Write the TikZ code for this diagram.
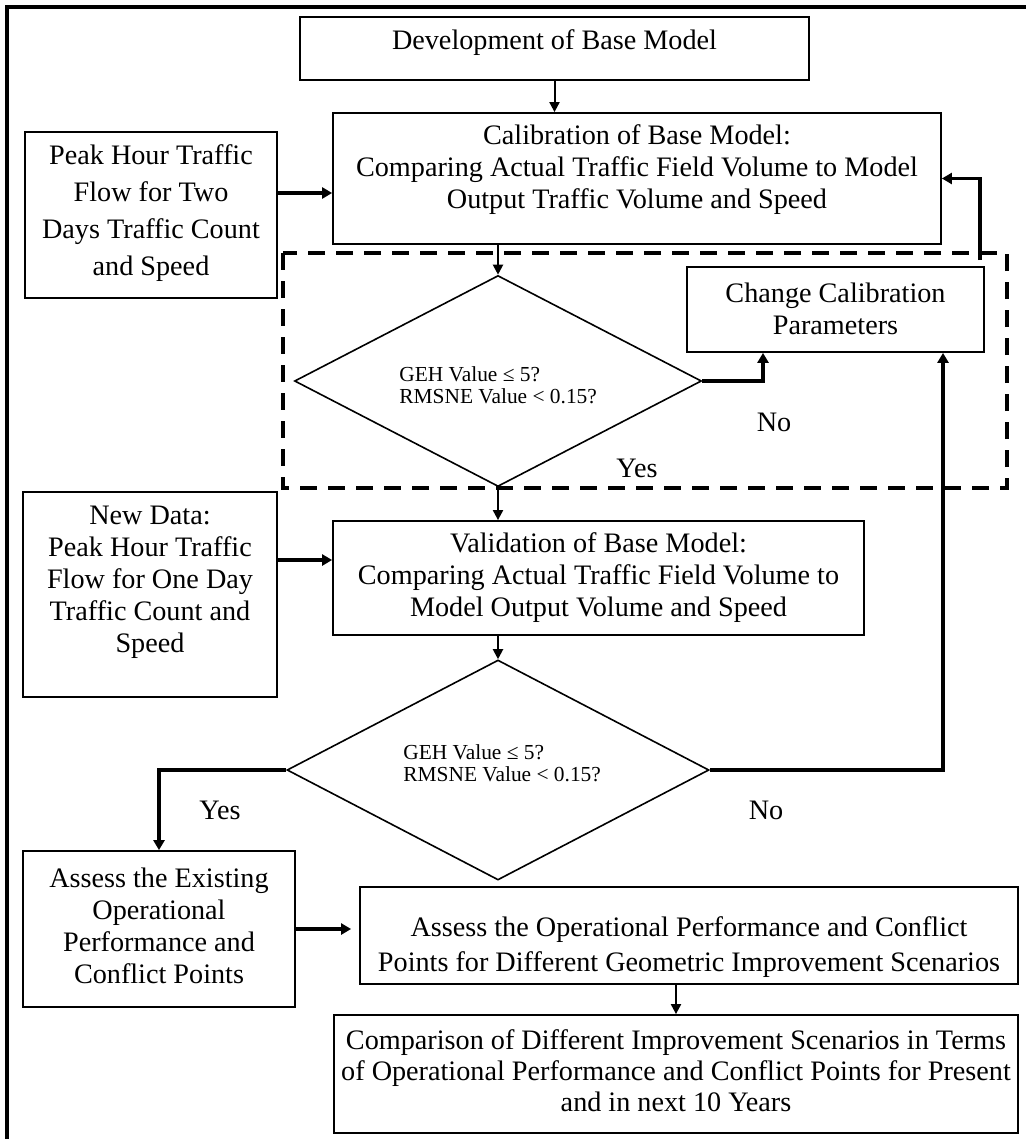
\documentclass[tikz,border=0pt]{standalone}
\usepackage{fontspec}
\setmainfont{Liberation Serif}
\usetikzlibrary{arrows.meta,shapes.geometric,calc}
\begin{document}
\begin{tikzpicture}[x=0.5pt,y=-0.5pt,
  bx/.style 2 args={draw, line width=0.9pt, minimum width=#1*0.5pt, minimum height=#2*0.5pt, inner sep=0pt},
  dia/.style 2 args={draw, diamond, line width=0.8pt, minimum width=#1*0.5pt, minimum height=#2*0.5pt, inner sep=0pt},
  txt/.style={align=center, inner sep=0pt, font=\fontsize{14.1}{16}\selectfont},
  small/.style={align=left, inner sep=0pt, font=\fontsize{10.7}{11}\selectfont, anchor=west},
  lbl/.style={inner sep=0pt, font=\fontsize{14.1}{16}\selectfont},
  thin/.style={line width=1pt, -{Triangle[length=5pt,width=5pt]}},
  thick/.style={line width=1.8pt, -{Triangle[length=5pt,width=5.5pt]}},
  frame/.style={line width=1.8pt},
  dashbox/.style={line width=1.8pt, dash pattern=on 8.5pt off 5.5pt}
]
\useasboundingbox (0,0) rectangle (1025,1139);
% outer frame
\draw[frame] (7,1170) -- (7,7) -- (1060,7);
% dashed group
\draw[dashbox] (283,253) rectangle (1007,488);
\coordinate (fb) at (980,260);

% boxes
\node[bx={509}{63}] (dev) at (554.5,48.5) {};
\node[txt] (devT) at (554.5,43) {Development of Base Model};

\node[bx={608}{131}] (cal) at (637,178.5) {};
\node[txt] (calT) at (637,170) {Calibration of Base Model:\\Comparing Actual Traffic Field Volume to Model\\Output Traffic Volume and Speed};

\node[bx={252}{166}] (peak) at (151,215) {};
\node[txt, font=\fontsize{14.1}{18.5}\selectfont] (peakT) at (151,213) {Peak Hour Traffic\\Flow for Two\\Days Traffic Count\\and Speed};

\node[bx={297}{85}] (chg) at (835.5,309.5) {};
\node[txt] (chgT) at (835.5,309) {Change Calibration\\Parameters};

\node[dia={407}{211}] (d1) at (498,381) {};
\node[small] (d1T) at (399,385) {GEH Value ≤ 5?\\RMSNE Value < 0.15?};

\node[bx={254}{205}] (new) at (150,594.5) {};
\node[txt] (newT) at (150,582) {New Data:\\Peak Hour Traffic\\Flow for One Day\\Traffic Count and\\Speed};

\node[bx={531}{114}] (val) at (598.5,578) {};
\node[txt] (valT) at (598.5,577.5) {Validation of Base Model:\\Comparing Actual Traffic Field Volume to\\Model Output Volume and Speed};

\node[dia={422}{220}] (d2) at (498,770) {};
\node[small] (d2T) at (403,763) {GEH Value ≤ 5?\\RMSNE Value < 0.15?};

\node[bx={272}{156}] (assess) at (159,929) {};
\node[txt] (assessT) at (159,925.5) {Assess the Existing\\Operational\\Performance and\\Conflict Points};

\node[bx={658}{97}] (scen) at (689,935.5) {};
\node[txt, font=\fontsize{14.1}{17.5}\selectfont] (scenT) at (689,947.5) {Assess the Operational Performance and Conflict\\Points for Different Geometric Improvement Scenarios};

\node[bx={684}{118}] (comp) at (676,1074) {};
\node[txt, font=\fontsize{14.1}{15.5}\selectfont] (compT) at (676,1071) {Comparison of Different Improvement Scenarios in Terms\\of Operational Performance and Conflict Points for Present\\and in next 10 Years};

% labels
\node[lbl] (no1) at (774,422) {No};
\node[lbl] (yes1) at (637,468) {Yes};
\node[lbl] (yes2) at (220,810) {Yes};
\node[lbl] (no2) at (766,810) {No};

% connectors
\draw[thin] (dev.south) -- (dev.south |- cal.north);
\draw[thick] ([yshift=11pt]peak.east) -- ([yshift=11pt]peak.east -| cal.west);
\draw[thick] (fb) |- (cal.east);
\draw[thin] (cal.south -| d1.north) -- (d1.north);
\draw[thick] (d1.east) -| ([xshift=-36.25pt]chg.south);
\draw[thin] (d1.south) -- (d1.south |- val.north);
\draw[thick] ([yshift=17.25pt]new.east) -- ([yshift=17.25pt]new.east -| val.west);
\draw[thin] (val.south -| d2.north) -- (d2.north);
\draw[thick] (d2.west) -| (assess.north);
\draw[thick] (d2.east) -| ([xshift=53.75pt]chg.south);
\draw[thick, shorten >=4pt] (assess.east) -- (assess.east -| scen.west);
\draw[thin] (comp.north |- scen.south) -- (comp.north);
\end{tikzpicture}
\end{document}
